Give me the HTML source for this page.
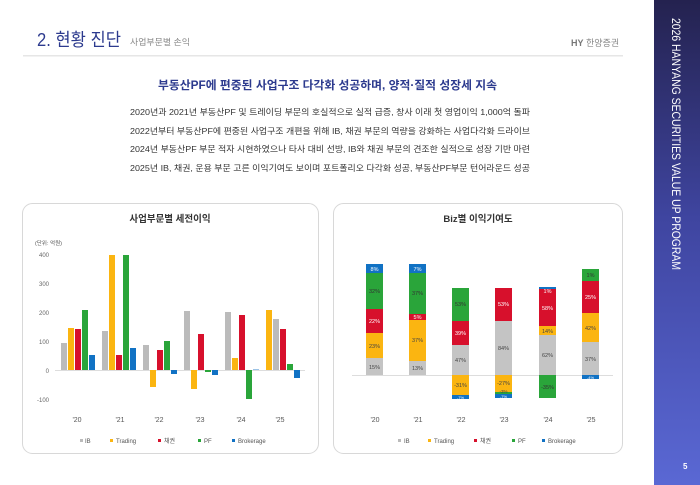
<!DOCTYPE html>
<html><head><meta charset="utf-8"><style>
html,body{margin:0;padding:0;background:#fff;}
svg{display:block;font-family:"Liberation Sans","Noto Sans CJK KR",sans-serif;}
</style></head><body>
<svg width="700" height="485" viewBox="0 0 700 485" xmlns="http://www.w3.org/2000/svg">
<defs>
<linearGradient id="sb" x1="0" y1="0" x2="0" y2="1">
<stop offset="0" stop-color="#24224f"/><stop offset="0.45" stop-color="#3f45a0"/><stop offset="1" stop-color="#5a68d4"/>
</linearGradient>
</defs>
<rect x="654" y="0" width="46" height="485" fill="url(#sb)"/>
<text transform="translate(672,18) rotate(90)" font-size="11.5" fill="#fff" textLength="252" lengthAdjust="spacingAndGlyphs">2026 HANYANG SECURITIES VALUE UP PROGRAM</text>
<text x="683" y="469" font-size="8" fill="#fff" font-weight="bold">5</text>

<text x="37" y="46" font-size="18" fill="#2c3a8e" textLength="84" lengthAdjust="spacingAndGlyphs">2. 현황 진단</text>
<text x="130" y="45" font-size="8.5" fill="#888" textLength="60" lengthAdjust="spacingAndGlyphs">사업부문별 손익</text>
<text x="571" y="46" font-size="9" fill="#888"><tspan font-weight="bold" fill="#777">HY</tspan> 한양증권</text>
<rect x="23" y="55" width="600" height="1.5" fill="#e6e6e6"/>

<text x="158" y="89" font-size="11.5" font-weight="bold" fill="#2c3a8e" textLength="339" lengthAdjust="spacingAndGlyphs">부동산PF에 편중된 사업구조 다각화 성공하며, 양적·질적 성장세 지속</text>
<g font-size="8.3" fill="#333">
<text x="130" y="115" textLength="400" lengthAdjust="spacingAndGlyphs">2020년과 2021년 부동산PF 및 트레이딩 부문의 호실적으로 실적 급증, 창사 이래 첫 영업이익 1,000억 돌파</text>
<text x="130" y="134" textLength="400" lengthAdjust="spacingAndGlyphs">2022년부터 부동산PF에 편중된 사업구조 개편을 위해 IB, 채권 부문의 역량을 강화하는 사업다각화 드라이브</text>
<text x="130" y="152" textLength="400" lengthAdjust="spacingAndGlyphs">2024년 부동산PF 부문 적자 시현하였으나 타사 대비 선방, IB와 채권 부문의 견조한 실적으로 성장 기반 마련</text>
<text x="130" y="171" textLength="400" lengthAdjust="spacingAndGlyphs">2025년 IB, 채권, 운용 부문 고른 이익기여도 보이며 포트폴리오 다각화 성공, 부동산PF부문 턴어라운드 성공</text>
</g>

<rect x="22.5" y="203.5" width="296" height="250" rx="10" fill="#fff" stroke="#d8d8d8"/>
<rect x="333.5" y="203.5" width="289" height="250" rx="10" fill="#fff" stroke="#d8d8d8"/>
<text x="170" y="222" font-size="9.5" font-weight="bold" fill="#333" text-anchor="middle">사업부문별 세전이익</text>
<text x="478" y="222" font-size="9.5" font-weight="bold" fill="#333" text-anchor="middle">Biz별 이익기여도</text>

<text x="35" y="245" font-size="5.5" fill="#555">(단위: 억원)</text>
<g font-size="6" fill="#666" text-anchor="end">
<text x="49" y="257">400</text><text x="49" y="286">300</text><text x="49" y="315">200</text>
<text x="49" y="344">100</text><text x="49" y="373">0</text><text x="49" y="402">-100</text>
</g>
<line x1="55" y1="370.5" x2="305" y2="370.5" stroke="#ddd"/>
<g font-size="7" fill="#555" text-anchor="middle">
<text x="77" y="422">'20</text><text x="120" y="422">'21</text><text x="159" y="422">'22</text>
<text x="200" y="422">'23</text><text x="241" y="422">'24</text><text x="280" y="422">'25</text>
</g>
<g font-size="6" fill="#555">
<rect x="80" y="439" width="3" height="3" fill="#bbb"/><text x="85" y="443">IB</text>
<rect x="110" y="439" width="3" height="3" fill="#fbb511"/><text x="116" y="443">Trading</text>
<rect x="158" y="439" width="3" height="3" fill="#d7102c"/><text x="164" y="443">채권</text>
<rect x="198" y="439" width="3" height="3" fill="#2aa53a"/><text x="204" y="443">PF</text>
<rect x="232" y="439" width="3" height="3" fill="#1172c4"/><text x="238" y="443">Brokerage</text>
</g>

<line x1="352" y1="375.5" x2="613" y2="375.5" stroke="#ddd"/>
<g font-size="7" fill="#555" text-anchor="middle">
<text x="375" y="422">'20</text><text x="418" y="422">'21</text><text x="461" y="422">'22</text>
<text x="504" y="422">'23</text><text x="548" y="422">'24</text><text x="591" y="422">'25</text>
</g>
<g font-size="6" fill="#555">
<rect x="398" y="439" width="3" height="3" fill="#bbb"/><text x="404" y="443">IB</text>
<rect x="428" y="439" width="3" height="3" fill="#fbb511"/><text x="434" y="443">Trading</text>
<rect x="474" y="439" width="3" height="3" fill="#d7102c"/><text x="480" y="443">채권</text>
<rect x="512" y="439" width="3" height="3" fill="#2aa53a"/><text x="518" y="443">PF</text>
<rect x="542" y="439" width="3" height="3" fill="#1172c4"/><text x="548" y="443">Brokerage</text>
</g>

<g>
<rect x="61" y="343" width="6" height="27" fill="#bbb"/>
<rect x="68" y="328" width="6" height="42" fill="#fbb511"/>
<rect x="75" y="329" width="6" height="41" fill="#d7102c"/>
<rect x="82" y="310" width="6" height="60" fill="#2aa53a"/>
<rect x="89" y="355" width="6" height="15" fill="#1172c4"/>
<rect x="102" y="331" width="6" height="39" fill="#bbb"/>
<rect x="109" y="255" width="6" height="115" fill="#fbb511"/>
<rect x="116" y="355" width="6" height="15" fill="#d7102c"/>
<rect x="123" y="255" width="6" height="115" fill="#2aa53a"/>
<rect x="130" y="348" width="6" height="22" fill="#1172c4"/>
<rect x="143" y="345" width="6" height="25" fill="#bbb"/>
<rect x="150" y="370" width="6" height="17" fill="#fbb511"/>
<rect x="157" y="350" width="6" height="20" fill="#d7102c"/>
<rect x="164" y="341" width="6" height="29" fill="#2aa53a"/>
<rect x="171" y="370" width="6" height="4" fill="#1172c4"/>
<rect x="184" y="311" width="6" height="59" fill="#bbb"/>
<rect x="191" y="370" width="6" height="19" fill="#fbb511"/>
<rect x="198" y="334" width="6" height="36" fill="#d7102c"/>
<rect x="205" y="370" width="6" height="2" fill="#2aa53a"/>
<rect x="212" y="370" width="6" height="5" fill="#1172c4"/>
<rect x="225" y="312" width="6" height="58" fill="#bbb"/>
<rect x="232" y="358" width="6" height="12" fill="#fbb511"/>
<rect x="239" y="315" width="6" height="55" fill="#d7102c"/>
<rect x="246" y="370" width="6" height="29" fill="#2aa53a"/>
<rect x="253" y="369" width="6" height="1" fill="#9cc3e6"/>
<rect x="266" y="310" width="6" height="60" fill="#fbb511"/>
<rect x="273" y="319" width="6" height="51" fill="#bbb"/>
<rect x="280" y="329" width="6" height="41" fill="#d7102c"/>
<rect x="287" y="364" width="6" height="6" fill="#2aa53a"/>
<rect x="294" y="370" width="6" height="8" fill="#1172c4"/>
</g>

<g font-size="5.5" text-anchor="middle">
<rect x="366" y="358" width="17" height="17" fill="#c4c4c4"/><text x="374.5" y="369" fill="#444">15%</text>
<rect x="366" y="333" width="17" height="25" fill="#fbb511"/><text x="374.5" y="348" fill="#444">23%</text>
<rect x="366" y="309" width="17" height="24" fill="#d7102c"/><text x="374.5" y="323" fill="#fff">22%</text>
<rect x="366" y="273" width="17" height="36" fill="#2aa53a"/><text x="374.5" y="293" fill="#333">32%</text>
<rect x="366" y="264" width="17" height="9" fill="#1172c4"/><text x="374.5" y="271" fill="#fff">8%</text>
<rect x="409" y="361" width="17" height="14" fill="#c4c4c4"/><text x="417.5" y="370" fill="#444">13%</text>
<rect x="409" y="320" width="17" height="41" fill="#fbb511"/><text x="417.5" y="342" fill="#444">37%</text>
<rect x="409" y="314" width="17" height="6" fill="#d7102c"/><text x="417.5" y="319" fill="#fff">5%</text>
<rect x="409" y="273" width="17" height="41" fill="#2aa53a"/><text x="417.5" y="295" fill="#333">37%</text>
<rect x="409" y="264" width="17" height="9" fill="#1172c4"/><text x="417.5" y="271" fill="#fff">7%</text>
<rect x="452" y="345" width="17" height="30" fill="#c4c4c4"/><text x="460.5" y="362" fill="#444">47%</text>
<rect x="452" y="321" width="17" height="24" fill="#d7102c"/><text x="460.5" y="335" fill="#fff">39%</text>
<rect x="452" y="288" width="17" height="33" fill="#2aa53a"/><text x="460.5" y="306" fill="#333">53%</text>
<rect x="452" y="375" width="17" height="20" fill="#fbb511"/><text x="460.5" y="387" fill="#444">-31%</text>
<rect x="452" y="395" width="17" height="4" fill="#1172c4"/><text x="460.5" y="399" fill="#fff" font-size="4">-7%</text>
<rect x="495" y="321" width="17" height="54" fill="#c4c4c4"/><text x="503.5" y="350" fill="#444">84%</text>
<rect x="495" y="288" width="17" height="33" fill="#d7102c"/><text x="503.5" y="306" fill="#fff">53%</text>
<rect x="495" y="375" width="17" height="17" fill="#fbb511"/><text x="503.5" y="385" fill="#444">-27%</text>
<rect x="495" y="392" width="17" height="2" fill="#2aa53a"/><text x="503.5" y="393" fill="#444" font-size="4.5">-3%</text>
<rect x="495" y="394" width="17" height="4" fill="#1172c4"/><text x="503.5" y="398" fill="#fff" font-size="4">-7%</text>
<rect x="539" y="335" width="17" height="40" fill="#c4c4c4"/><text x="547.5" y="357" fill="#444">62%</text>
<rect x="539" y="326" width="17" height="9" fill="#fbb511"/><text x="547.5" y="333" fill="#444">14%</text>
<rect x="539" y="289" width="17" height="37" fill="#d7102c"/><text x="547.5" y="310" fill="#fff">58%</text>
<rect x="539" y="287" width="17" height="2" fill="#1172c4"/><text x="547.5" y="293" fill="#fff">1%</text>
<rect x="539" y="375" width="17" height="23" fill="#2aa53a"/><text x="547.5" y="389" fill="#333">-35%</text>
<rect x="582" y="342" width="17" height="33" fill="#c4c4c4"/><text x="590.5" y="361" fill="#444">37%</text>
<rect x="582" y="313" width="17" height="29" fill="#fbb511"/><text x="590.5" y="330" fill="#444">42%</text>
<rect x="582" y="281" width="17" height="32" fill="#d7102c"/><text x="590.5" y="299" fill="#fff">25%</text>
<rect x="582" y="269" width="17" height="12" fill="#2aa53a"/><text x="590.5" y="277" fill="#333">1%</text>
<rect x="582" y="375" width="17" height="4" fill="#1172c4"/><text x="590.5" y="379" fill="#fff" font-size="4">-4%</text>
</g>
</svg>
</body></html>
